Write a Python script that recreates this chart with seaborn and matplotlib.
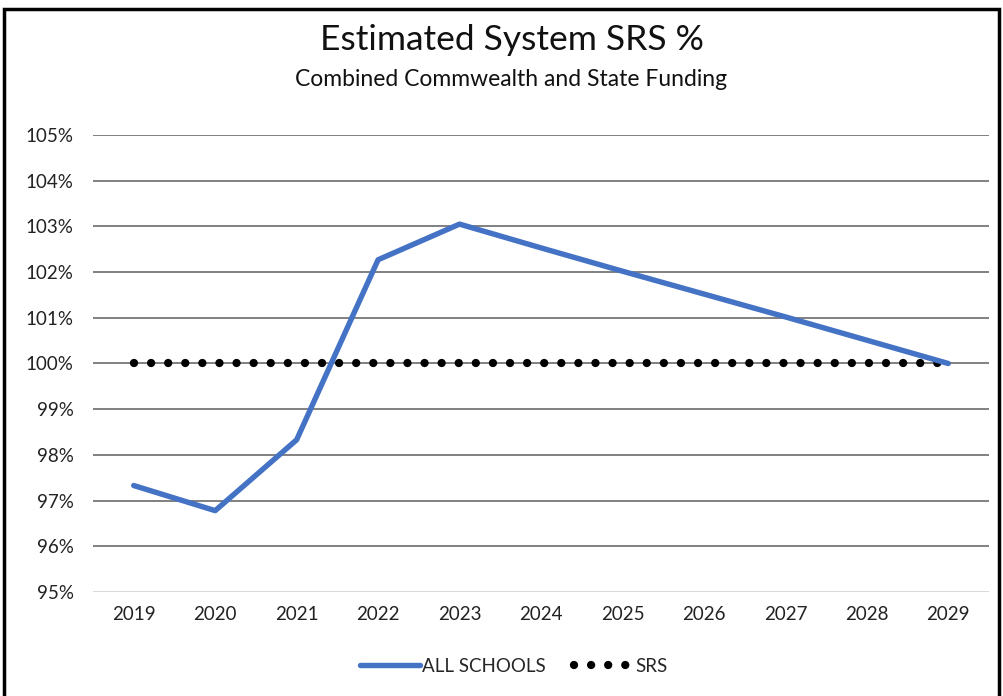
import matplotlib
matplotlib.use("Agg")
import matplotlib.pyplot as plt
import seaborn as sns
import pandas as pd
from matplotlib.patches import Rectangle

years = ["2019", "2020", "2021", "2022", "2023", "2024", "2025", "2026", "2027", "2028", "2029"]
all_schools = [97.33, 96.78, 98.33, 102.27, 103.05, 102.53, 102.02, 101.52, 101.02, 100.51, 100.0]
srs = [100.0] * 11
y_ticks = [95, 96, 97, 98, 99, 100, 101, 102, 103, 104, 105]

sns.set_theme(style="white")
plt.rcParams['font.family'] = ['Lato', 'DejaVu Sans']

df = pd.DataFrame({"pos": range(len(years)), "ALL SCHOOLS": all_schools, "SRS": srs})

fig = plt.figure(figsize=(10.04, 6.96), dpi=100)
ax = fig.add_axes([93 / 1004, 1 - 592 / 696, (989 - 93) / 1004, (592 - 135) / 696])

for yv in y_ticks:
    ax.axhline(yv, color="#d9d9d9" if yv == 95 else "#808080", lw=1.4, zorder=0)

sns.lineplot(data=df, x="pos", y="SRS", ax=ax, color="black", lw=6.0,
             linestyle=(0, (0.001, 2.05)), dash_capstyle="round", label="SRS", zorder=3)
sns.lineplot(data=df, x="pos", y="ALL SCHOOLS", ax=ax, color="#4472C4", lw=3.9,
             label="ALL SCHOOLS", zorder=4)

ax.set_xlim(-0.5, len(years) - 0.5)
ax.set_ylim(95, 105)
ax.set_xticks(range(len(years)))
ax.set_xticklabels(years, fontsize=13.5, color="#222222")
ax.set_yticks(y_ticks)
ax.set_yticklabels([f"{v}%" for v in y_ticks], fontsize=13.5, color="#222222")
ax.tick_params(axis="both", length=0, pad=10)
ax.tick_params(axis="y", pad=14)
ax.set_xlabel("")
ax.set_ylabel("")
for s in ax.spines.values():
    s.set_visible(False)

handles, labels = ax.get_legend_handles_labels()
ax.get_legend().remove()
order = [labels.index("ALL SCHOOLS"), labels.index("SRS")]
fig.legend([handles[i] for i in order], [labels[i] for i in order],
           loc="center", bbox_to_anchor=(514 / 1004, 1 - 666 / 696), ncol=2,
           frameon=False, fontsize=13.5, handlelength=3.2, handletextpad=0.1, columnspacing=1.5)

fig.text(512 / 1004, 1 - 40 / 696, "Estimated System SRS %", ha="center", va="center",
         fontsize=25.5, color="#111111")
fig.text(511 / 1004, 1 - 80 / 696, "Combined Commwealth and State Funding", ha="center",
         va="center", fontsize=16.5, color="#111111")

fig.patches.append(Rectangle((4 / 1004, -0.05), (999 - 4) / 1004, 1.05 - 9 / 696,
                             transform=fig.transFigure, fill=False, edgecolor="black", lw=2.5))

fig.savefig("out.png", dpi=100)
